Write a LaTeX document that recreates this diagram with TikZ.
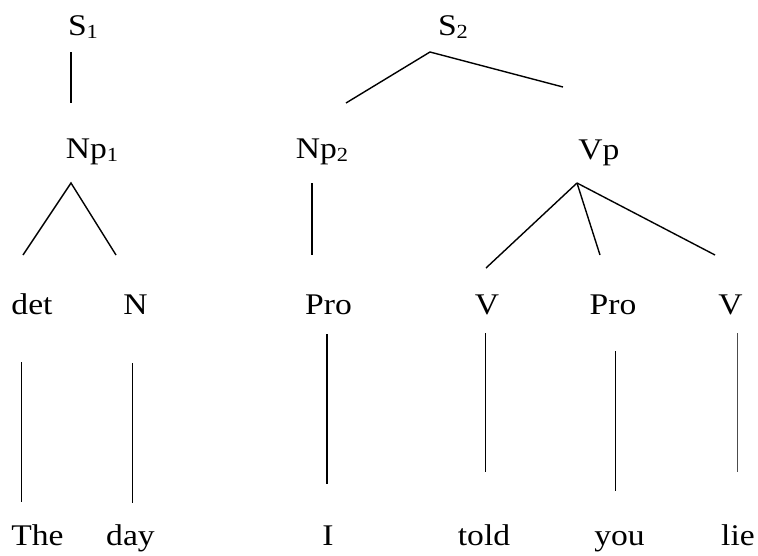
\documentclass[tikz,border=0pt]{standalone}
\usepackage{fontspec}
\setmainfont[FakeStretch=1.12]{Liberation Serif}
\newcommand{\subn}[1]{\raisebox{-0.12em}{\fontsize{20}{24}\selectfont #1}}
\begin{document}
\begin{tikzpicture}[x=1pt,y=-1pt,
  lbl/.style={inner sep=0pt,anchor=base,font=\fontsize{30}{36}\selectfont},
  br/.style={line width=1.4pt},
  thin/.style={line width=0.8pt},
  thick/.style={line width=1.6pt}]
\useasboundingbox (0,0) rectangle (758,555);
% labels
\node[lbl] (S1) at (83,35) {S\subn{1}};
\node[lbl] (S2) at (453,35) {S\subn{2}};
\node[lbl] (Np1) at (92,158) {Np\subn{1}};
\node[lbl] (Np2) at (322,158) {Np\subn{2}};
\node[lbl] (Vp) at (599,159) {Vp};
\node[lbl] (det) at (32,314) {det};
\node[lbl] (N) at (135.5,314) {N};
\node[lbl] (Pro1) at (328.5,314) {Pro};
\node[lbl] (V1) at (487,314) {V};
\node[lbl] (Pro2) at (613,314) {Pro};
\node[lbl] (V2) at (730.5,314) {V};
\node[lbl] (The) at (37.5,545) {The};
\node[lbl] (day) at (130.5,545) {day};
\node[lbl] (I) at (328,545) {I};
\node[lbl] (told) at (484,545) {told};
\node[lbl] (you) at (619.5,545) {you};
\node[lbl] (lie) at (738,545) {lie};
% branch points
\coordinate (S1b) at (71,52);   \coordinate (Np1t) at (71,103);
\coordinate (S2b) at (430,52);  \coordinate (Np2t) at (346,103); \coordinate (Vpt) at (563,87);
\coordinate (Np1b) at (71,183); \coordinate (dett) at (23,255); \coordinate (Nt) at (116,255);
\coordinate (Np2b) at (312,183); \coordinate (Pro1t) at (312,255);
\coordinate (Vpb) at (577,183); \coordinate (V1t) at (486,268); \coordinate (Pro2t) at (600,255); \coordinate (V2t) at (715,255);
\coordinate (detb) at (21,362); \coordinate (Thet) at (21,502);
\coordinate (Nb) at (132,363); \coordinate (dayt) at (132,503);
\coordinate (Pro1b) at (327,334); \coordinate (It) at (327,484);
\coordinate (V1b) at (485,333); \coordinate (toldt) at (485,472);
\coordinate (Pro2b) at (615,351); \coordinate (yout) at (615,491);
\coordinate (V2b) at (737,333); \coordinate (liet) at (737,472);
% connectors
\draw[br] (S1b) -- (Np1t);
\draw[br] (Np2t) -- (S2b) -- (Vpt);
\draw[br] (dett) -- (Np1b) -- (Nt);
\draw[br] (Np2b) -- (Pro1t);
\draw[br] (Vpb) -- (V1t);
\draw[br] (Vpb) -- (Pro2t);
\draw[br] (Vpb) -- (V2t);
\draw[thin] (detb) -- (Thet);
\draw[thin] (Nb) -- (dayt);
\draw[thick] (Pro1b) -- (It);
\draw[thin] (V1b) -- (toldt);
\draw[thin] (Pro2b) -- (yout);
\draw[thin,black!70] (V2b) -- (liet);
\end{tikzpicture}
\end{document}
